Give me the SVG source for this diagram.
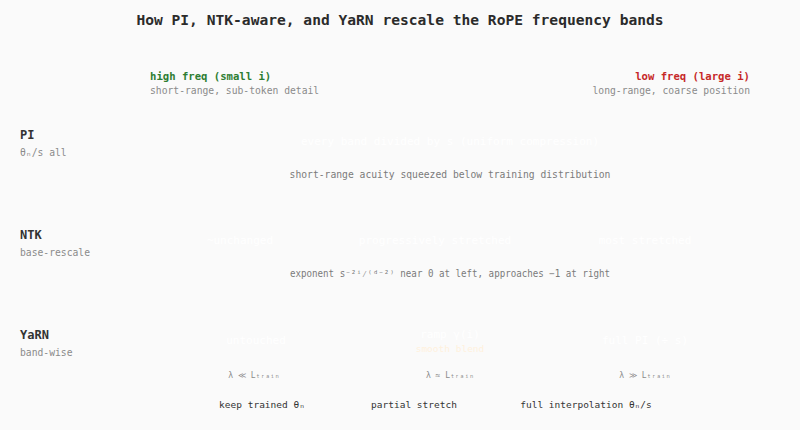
<svg xmlns="http://www.w3.org/2000/svg" width="800" height="430" viewBox="0 0 800 430">
<style>
text{font-family:"DejaVu Sans Mono","Liberation Mono",monospace}
.title{font-size:14.6px;font-weight:bold;fill:#2b2b2b}
.rl{font-size:12px;font-weight:bold;fill:#333}
.rs{font-size:9.7px;fill:#8a8a8a}
.band{font-size:11px;fill:#ffffff}
.note{font-size:9.7px;fill:#7a7a7a}
.lam{font-size:8px;fill:#8a8a8a}
.bot{font-size:9.5px;fill:#333}
</style>
<rect width="800" height="430" fill="#fafafa"/>
<text class="title" x="400" y="25" text-anchor="middle">How PI, NTK-aware, and YaRN rescale the RoPE frequency bands</text>
<g id="axis">
<text x="150" y="80" font-size="10.6" font-weight="bold" fill="#2e7d32">high freq (small i)</text>
<text x="150" y="94" class="rs">short-range, sub-token detail</text>
<text x="750" y="80" font-size="10.6" font-weight="bold" fill="#c62828" text-anchor="end">low freq (large i)</text>
<text x="750" y="94" class="rs" text-anchor="end">long-range, coarse position</text>
</g>
<g id="pi">
<text class="rl" x="20" y="139">PI</text>
<text class="rs" x="20" y="156">θₙ/s all</text>
<text class="band" x="450" y="145" text-anchor="middle">every band divided by s (uniform compression)</text>
<text class="note" x="450" y="178" text-anchor="middle">short-range acuity squeezed below training distribution</text>
</g>
<g id="ntk">
<text class="rl" x="20" y="239">NTK</text>
<text class="rs" x="20" y="256">base-rescale</text>
<text class="band" x="240" y="244" text-anchor="middle">~unchanged</text>
<text class="band" x="435" y="244" text-anchor="middle">progressively stretched</text>
<text class="band" x="645" y="244" text-anchor="middle">most stretched</text>
<text class="note" x="450" y="277" text-anchor="middle" font-size="9.4" textLength="320" lengthAdjust="spacingAndGlyphs">exponent s⁻²ⁱ⁄⁽ᵈ⁻²⁾ near 0 at left, approaches −1 at right</text>
</g>
<g id="yarn">
<text class="rl" x="20" y="339">YaRN</text>
<text class="rs" x="20" y="356">band-wise</text>
<text class="band" x="256" y="344" text-anchor="middle">untouched</text>
<text class="band" x="450" y="338" text-anchor="middle">ramp γ(i)</text>
<text x="450" y="352" font-size="9.5" fill="#fff1dd" text-anchor="middle">smooth blend</text>
<text class="band" x="645" y="344" text-anchor="middle">full PI (÷ s)</text>
<text class="lam" x="254" y="378" text-anchor="middle">λ ≪ Lₜᵣₐᵢₙ</text>
<text class="lam" x="450" y="378" text-anchor="middle">λ ≈ Lₜᵣₐᵢₙ</text>
<text class="lam" x="645" y="378" text-anchor="middle">λ ≫ Lₜᵣₐᵢₙ</text>
<text class="bot" x="262" y="408" text-anchor="middle">keep trained θₙ</text>
<text class="bot" x="414" y="408" text-anchor="middle">partial stretch</text>
<text class="bot" x="586" y="408" text-anchor="middle">full interpolation θₙ/s</text>
</g>
<g id="connectors"></g>
</svg>
